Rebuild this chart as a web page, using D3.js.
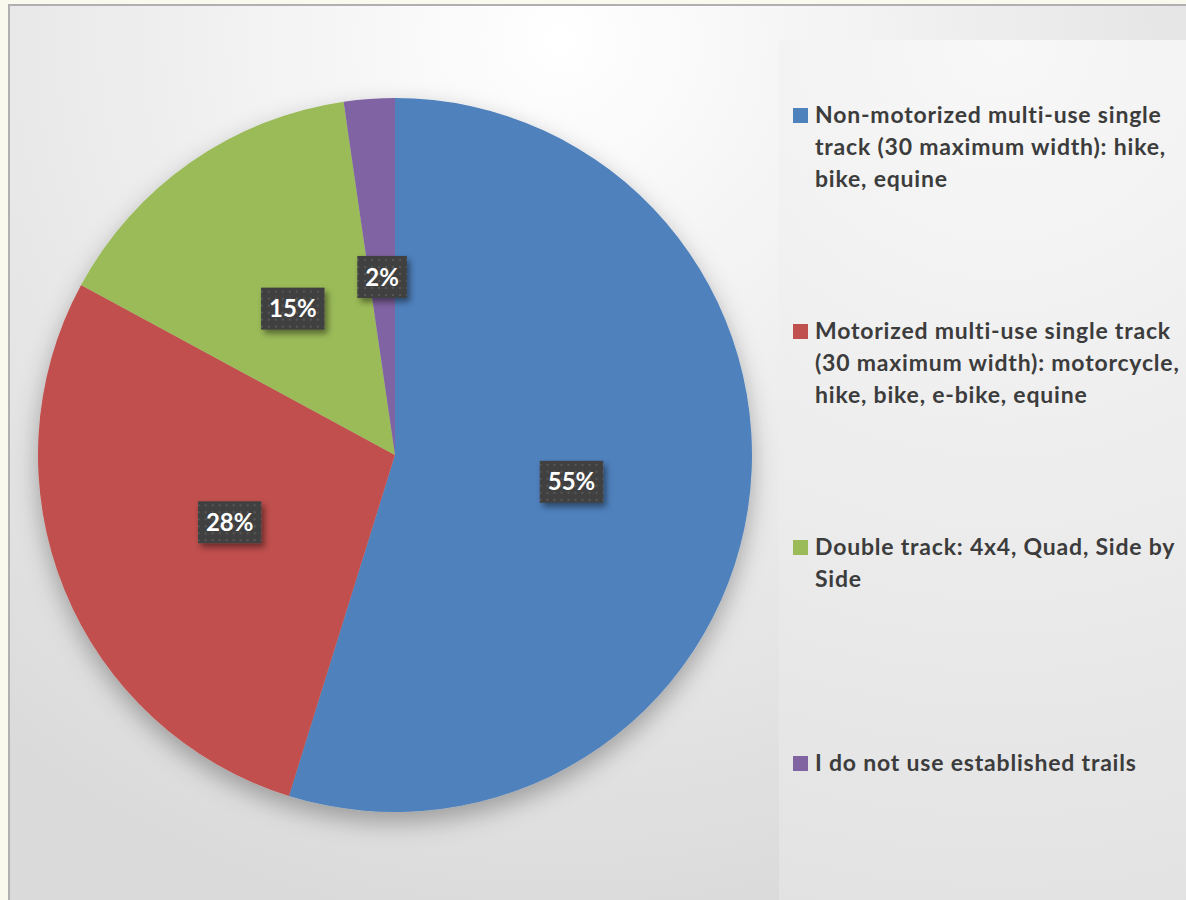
<!DOCTYPE html>
<html>
<head>
<meta charset="utf-8">
<title>Trail use</title>
<style>
  body { margin: 0; background: #f9f9ee; }
  svg { display: block; font-family: Lato, "Open Sans", sans-serif; }
</style>
<script src="https://d3js.org/d3.v7.min.js"></script>
</head>
<body>
<svg id="chart" width="1186" height="900"></svg>
<script>
// data (share of answers, in %)
const categories = [
  "Non-motorized multi-use single track (30 maximum width): hike, bike, equine",
  "Motorized multi-use single track (30 maximum width): motorcycle, hike, bike, e-bike, equine",
  "Double track: 4x4, Quad, Side by Side",
  "I do not use established trails"
];
const values = [54.8, 28.1, 14.8, 2.3];
// legend text as wrapped in the original
const legendLines = [
  ["Non-motorized multi-use single", "track (30 maximum width): hike,", "bike, equine"],
  ["Motorized multi-use single track", "(30 maximum width): motorcycle,", "hike, bike, e-bike, equine"],
  ["Double track: 4x4, Quad, Side by", "Side"],
  ["I do not use established trails"]
];
const colors = ["#4f81bd", "#c0504d", "#9bbb59", "#8064a2"];

const svg = d3.select("#chart");
const W = +svg.attr("width");
const H = +svg.attr("height");
const CX = 395, CY = 455, R = 357;

const defs = svg.append("defs");

const bg = defs.append("radialGradient")
    .attr("id", "bg").attr("gradientUnits", "userSpaceOnUse")
    .attr("cx", 560).attr("cy", 40).attr("r", 900);
bg.append("stop").attr("offset", "0").attr("stop-color", "#ffffff");
bg.append("stop").attr("offset", "1").attr("stop-color", "#dadada");

const lg = defs.append("radialGradient")
    .attr("id", "lg").attr("gradientUnits", "userSpaceOnUse")
    .attr("cx", 1000).attr("cy", 40).attr("r", 900);
lg.append("stop").attr("offset", "0").attr("stop-color", "#f8f8f8");
lg.append("stop").attr("offset", "1").attr("stop-color", "#e2e2e2");

defs.append("filter").attr("id", "pieShadow")
    .attr("x", "-20%").attr("y", "-20%").attr("width", "140%").attr("height", "140%")
  .append("feDropShadow")
    .attr("dx", 0).attr("dy", 10).attr("stdDeviation", 12)
    .attr("flood-color", "#000").attr("flood-opacity", 0.3);

defs.append("filter").attr("id", "boxShadow")
    .attr("x", "-30%").attr("y", "-30%").attr("width", "160%").attr("height", "160%")
  .append("feDropShadow")
    .attr("dx", 3).attr("dy", 4).attr("stdDeviation", 3)
    .attr("flood-color", "#000").attr("flood-opacity", 0.45);

const dots = defs.append("pattern")
    .attr("id", "dots").attr("patternUnits", "userSpaceOnUse")
    .attr("width", 7).attr("height", 7);
dots.append("rect").attr("width", 7).attr("height", 7).attr("fill", "#404040");
dots.append("rect").attr("x", 3).attr("y", 3).attr("width", 2).attr("height", 2).attr("fill", "#575757");

// frame
svg.append("rect")
    .attr("x", 9).attr("y", 5).attr("width", W).attr("height", H)
    .attr("fill", "url(#bg)").attr("stroke", "#b0b0b0").attr("stroke-width", 2);

// legend box
svg.append("rect")
    .attr("x", 779).attr("y", 40).attr("width", W - 779).attr("height", H - 40)
    .attr("fill", "url(#lg)");

// pie
const pie = d3.pie().sort(null).value(d => d);
const arcs = pie(values);
const arc = d3.arc().innerRadius(0).outerRadius(R);

const g = svg.append("g").attr("transform", `translate(${CX},${CY})`);
g.append("g").attr("filter", "url(#pieShadow)")
  .selectAll("path")
  .data(arcs)
  .join("path")
    .attr("d", arc)
    .attr("fill", (d, i) => colors[i]);

// data labels
const total = d3.sum(values);
const labels = g.selectAll("g.lab")
  .data(arcs)
  .join("g")
    .attr("class", "lab")
    .attr("transform", d => `translate(${arc.centroid(d)})`);

labels.append("text")
    .attr("text-anchor", "middle")
    .attr("dy", "0.36em")
    .attr("fill", "#fff")
    .attr("font-size", 24)
    .attr("font-weight", 700)
    .text(d => Math.round(d.value / total * 100) + "%")
    .each(function() {
      const b = this.getBBox();
      d3.select(this.parentNode).insert("rect", "text")
        .attr("x", b.x - 8).attr("y", -21)
        .attr("width", b.width + 16).attr("height", 42)
        .attr("fill", "url(#dots)")
        .attr("filter", "url(#boxShadow)");
    });

// legend
const ly = d3.scalePoint().domain(categories).range([123, 771]);
const items = svg.append("g").selectAll("g")
  .data(categories)
  .join("g")
    .attr("transform", d => `translate(793,${ly(d)})`);

items.append("rect")
    .attr("x", 0).attr("y", -15).attr("width", 15).attr("height", 15)
    .attr("fill", (d, i) => colors[i]);

items.append("text")
    .attr("x", 22)
    .attr("fill", "#3c3c3c")
    .attr("font-size", 23)
    .attr("font-weight", 700)
    .attr("letter-spacing", 0.8)
  .selectAll("tspan")
  .data((d, i) => legendLines[i])
  .join("tspan")
    .attr("x", 22)
    .attr("dy", (d, j) => j === 0 ? 0 : 32)
    .text(d => d);
</script>
</body>
</html>
